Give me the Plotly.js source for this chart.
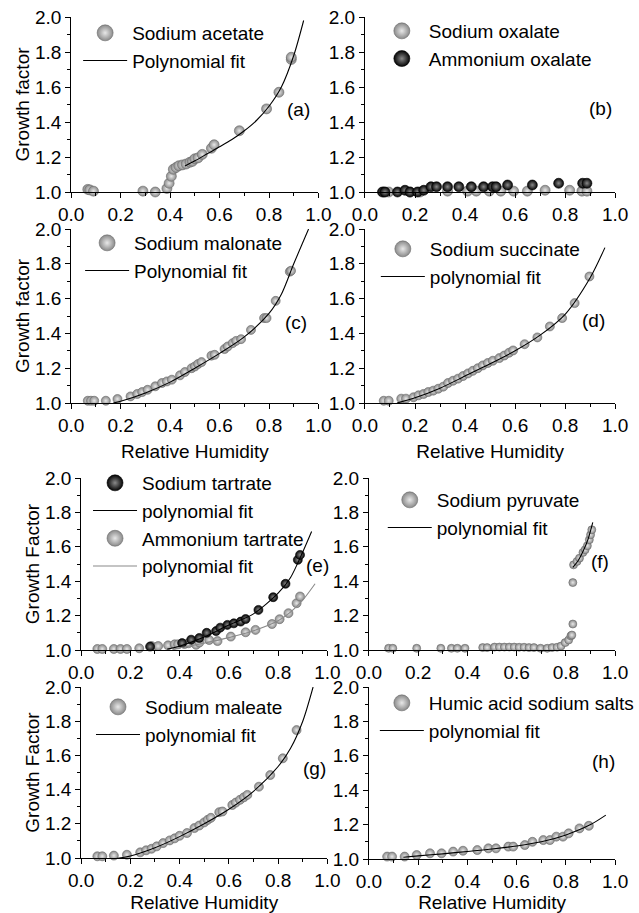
<!DOCTYPE html>
<html><head><meta charset="utf-8">
<script src="https://cdn.plot.ly/plotly-3.0.1.min.js"></script>
<style>html,body{margin:0;padding:0;background:#fff}</style>
</head><body><div id="chart" style="width:639px;height:913px"></div>
<script>
// ---------- DATA ----------
// (a) Sodium acetate
const acetateX = [0.067,0.075,0.09,0.29,0.34,0.387,0.396,0.405,0.413,0.424,0.435,0.45,0.465,0.48,0.49,0.50,0.513,0.53,0.567,0.578,0.68,0.79,0.84,0.89,0.89];
const acetateY = [1.015,1.012,1.005,1.005,1.0,1.02,1.05,1.09,1.13,1.14,1.15,1.155,1.16,1.17,1.175,1.19,1.195,1.215,1.25,1.27,1.35,1.475,1.57,1.757,1.77];
const acetateFitX = [0.46,0.50,0.55,0.60,0.65,0.70,0.75,0.80,0.85,0.90,0.94];
const acetateFitY = [1.148,1.178,1.218,1.258,1.30,1.35,1.41,1.49,1.60,1.78,1.98];
// (b) Oxalates
const sodOxX = [0.075,0.095,0.18,0.22,0.33,0.41,0.445,0.497,0.543,0.594,0.649,0.72,0.818,0.867,0.887];
const sodOxY = [1.0,1.0,1.0,1.0,1.005,1.005,1.005,1.005,1.005,1.005,1.005,1.01,1.01,1.005,1.005];
const ammOxX = [0.07,0.08,0.13,0.16,0.18,0.21,0.235,0.264,0.286,0.33,0.375,0.425,0.474,0.51,0.524,0.57,0.669,0.774,0.87,0.887];
const ammOxY = [1.0,1.0,1.0,1.01,1.0,1.0,1.01,1.03,1.03,1.03,1.03,1.03,1.03,1.03,1.03,1.04,1.04,1.05,1.05,1.05];
// (c) Sodium malonate
const malonateX = [0.067,0.08,0.093,0.14,0.187,0.24,0.267,0.287,0.309,0.34,0.367,0.387,0.407,0.44,0.46,0.487,0.50,0.513,0.527,0.567,0.58,0.62,0.633,0.653,0.667,0.687,0.727,0.78,0.79,0.827,0.884,0.889];
const malonateY = [1.013,1.013,1.013,1.013,1.023,1.038,1.052,1.063,1.076,1.096,1.115,1.124,1.134,1.159,1.178,1.20,1.21,1.224,1.235,1.272,1.277,1.31,1.325,1.344,1.357,1.367,1.42,1.488,1.488,1.587,1.755,1.76];
const malonateFitX = [0.17,0.2,0.3,0.4,0.5,0.6,0.7,0.8,0.85,0.9,0.96];
const malonateFitY = [1.0,1.01,1.058,1.12,1.20,1.285,1.38,1.515,1.625,1.80,2.0];
// (d) Sodium succinate
const succinateX = [0.075,0.095,0.145,0.164,0.194,0.214,0.234,0.253,0.273,0.293,0.313,0.332,0.352,0.372,0.392,0.412,0.431,0.451,0.471,0.491,0.511,0.537,0.557,0.576,0.592,0.638,0.689,0.739,0.788,0.838,0.897];
const succinateY = [1.013,1.013,1.025,1.025,1.033,1.044,1.052,1.063,1.071,1.082,1.094,1.115,1.128,1.14,1.155,1.17,1.185,1.20,1.216,1.23,1.243,1.258,1.273,1.289,1.302,1.338,1.377,1.44,1.488,1.574,1.727];
const succinateFitX = [0.128,0.2,0.3,0.4,0.5,0.6,0.7,0.8,0.9,0.959];
const succinateFitY = [1.0,1.03,1.085,1.155,1.225,1.30,1.39,1.51,1.72,1.893];
// (e) Tartrates
const tartNaX = [0.28,0.41,0.447,0.48,0.51,0.548,0.565,0.594,0.62,0.648,0.668,0.72,0.78,0.83,0.88,0.889];
const tartNaY = [1.02,1.04,1.06,1.07,1.10,1.11,1.13,1.146,1.155,1.165,1.18,1.233,1.307,1.385,1.524,1.553];
const tartNH4X = [0.066,0.086,0.133,0.16,0.186,0.236,0.286,0.313,0.353,0.38,0.394,0.42,0.436,0.467,0.48,0.52,0.554,0.608,0.668,0.708,0.775,0.806,0.842,0.875,0.889];
const tartNH4Y = [1.006,1.006,1.006,1.006,1.006,1.01,1.023,1.023,1.027,1.033,1.033,1.035,1.039,1.03,1.043,1.058,1.052,1.078,1.103,1.117,1.151,1.179,1.214,1.272,1.311];
const tartNaFitX = [0.35,0.4,0.5,0.6,0.7,0.8,0.85,0.9,0.936];
const tartNaFitY = [1.005,1.022,1.075,1.145,1.21,1.33,1.42,1.57,1.689];
const tartNH4FitX = [0.37,0.4,0.5,0.6,0.7,0.8,0.85,0.9,0.95];
const tartNH4FitY = [1.0,1.012,1.04,1.072,1.112,1.17,1.22,1.29,1.385];
// (f) Sodium pyruvate
const pyruvateX = [0.08,0.097,0.194,0.292,0.335,0.359,0.39,0.462,0.48,0.51,0.53,0.55,0.57,0.59,0.61,0.63,0.65,0.67,0.697,0.724,0.744,0.764,0.78,0.797,0.811,0.82,0.824,0.828,0.828,0.831,0.845,0.855,0.869,0.878,0.887,0.895,0.9,0.905];
const pyruvateY = [1.01,1.01,1.01,1.01,1.01,1.01,1.01,1.014,1.014,1.017,1.017,1.017,1.017,1.017,1.016,1.016,1.014,1.014,1.01,1.01,1.014,1.016,1.023,1.043,1.058,1.082,1.087,1.151,1.392,1.495,1.515,1.534,1.567,1.583,1.606,1.641,1.67,1.699];
const pyruvateFitX = [0.828,0.85,0.87,0.89,0.909];
const pyruvateFitY = [1.48,1.52,1.575,1.645,1.742];
// (g) Sodium maleate
const maleateX = [0.066,0.086,0.133,0.186,0.24,0.264,0.286,0.307,0.333,0.36,0.38,0.40,0.43,0.46,0.48,0.50,0.514,0.527,0.561,0.574,0.614,0.628,0.645,0.661,0.675,0.722,0.768,0.819,0.875];
const maleateY = [1.01,1.01,1.014,1.019,1.033,1.045,1.054,1.068,1.087,1.103,1.115,1.13,1.146,1.175,1.19,1.208,1.223,1.235,1.268,1.272,1.31,1.324,1.34,1.355,1.369,1.417,1.485,1.583,1.748];
const maleateFitX = [0.139,0.2,0.3,0.4,0.5,0.6,0.7,0.8,0.85,0.9,0.942];
const maleateFitY = [0.996,1.012,1.06,1.125,1.20,1.285,1.39,1.535,1.64,1.80,2.0];
// (h) Humic acid sodium salts
const humicX = [0.074,0.094,0.145,0.194,0.248,0.295,0.342,0.382,0.44,0.485,0.516,0.566,0.586,0.633,0.664,0.708,0.735,0.761,0.788,0.811,0.855,0.893];
const humicY = [1.014,1.014,1.014,1.023,1.033,1.033,1.043,1.048,1.052,1.062,1.062,1.072,1.072,1.081,1.10,1.11,1.11,1.13,1.13,1.149,1.178,1.193];
const humicFitX = [0.14,0.2,0.3,0.4,0.5,0.6,0.7,0.8,0.9,0.962];
const humicFitY = [1.01,1.018,1.03,1.044,1.058,1.076,1.10,1.14,1.20,1.255];

const xTicks = [0,0.2,0.4,0.6,0.8,1.0];
const yTicks = [1.0,1.2,1.4,1.6,1.8,2.0];

// ---------- STYLE / LAYOUT ----------
const FONT = 'Liberation Sans, Arial, sans-serif';
const FS = 19;
const W = 639, H = 913;
const GRAY = {color:'#8a8a8a', gradient:{type:'radial', color:'#e8e8e8'}, line:{width:0.6, color:'#6a6a6a'}};
const BLACK = {color:'#030303', gradient:{type:'radial', color:'#8a8a8a'}, line:{width:0.6, color:'#000'}};

function ax(i){ return i===1 ? '' : String(i); }
function markers(x, y, i, sty, size){
  return {x:x, y:y, xaxis:'x'+ax(i), yaxis:'y'+ax(i), mode:'markers', showlegend:false, cliponaxis:false,
    marker:Object.assign({size:size, symbol:'circle'}, sty), hoverinfo:'skip'};
}
function legendMarker(name, i, sty){
  return {x:[null], y:[null], xaxis:'x'+ax(i), yaxis:'y'+ax(i), mode:'markers', name:name, legend:'legend'+ax(i),
    marker:Object.assign({size:16, symbol:'circle'}, sty)};
}
function fit(x, y, i, name, color){
  return {x:x, y:y, xaxis:'x'+ax(i), yaxis:'y'+ax(i), mode:'lines', name:name, legend:'legend'+ax(i),
    line:{color:color, width:1.1, shape:'spline', smoothing:0.8}, hoverinfo:'skip'};
}

const data = [
  markers(acetateX, acetateY, 1, GRAY, 10), legendMarker('Sodium acetate', 1, GRAY), fit(acetateFitX, acetateFitY, 1, 'Polynomial fit', '#000'),
  markers(sodOxX, sodOxY, 2, GRAY, 10), markers(ammOxX, ammOxY, 2, BLACK, 10),
  legendMarker('Sodium oxalate', 2, GRAY), legendMarker('Ammonium oxalate', 2, BLACK),
  markers(malonateX, malonateY, 3, GRAY, 9), legendMarker('Sodium malonate', 3, GRAY), fit(malonateFitX, malonateFitY, 3, 'Polynomial fit', '#000'),
  markers(succinateX, succinateY, 4, GRAY, 9), legendMarker('Sodium succinate', 4, GRAY), fit(succinateFitX, succinateFitY, 4, 'polynomial fit', '#000'),
  markers(tartNH4X, tartNH4Y, 5, GRAY, 9), markers(tartNaX, tartNaY, 5, BLACK, 9),
  legendMarker('Sodium tartrate', 5, BLACK), fit(tartNaFitX, tartNaFitY, 5, 'polynomial fit', '#000'),
  legendMarker('Ammonium tartrate', 5, GRAY), fit(tartNH4FitX, tartNH4FitY, 5, 'polynomial fit', '#8a8a8a'),
  markers(pyruvateX, pyruvateY, 6, GRAY, 8), legendMarker('Sodium pyruvate', 6, GRAY), fit(pyruvateFitX, pyruvateFitY, 6, 'polynomial fit', '#000'),
  markers(maleateX, maleateY, 7, GRAY, 9), legendMarker('Sodium maleate', 7, GRAY), fit(maleateFitX, maleateFitY, 7, 'polynomial fit', '#000'),
  markers(humicX, humicY, 8, GRAY, 9), legendMarker('Humic acid sodium salts', 8, GRAY), fit(humicFitX, humicFitY, 8, 'polynomial fit', '#000')
];

// panel pixel boxes: [left, right, top, bottom]; leg = [text-left px, first-row-centre px]
const panels = [
  {box:[72,322,17,192], ytitle:'Growth factor', xtitle:false, leg:[133,35], lab:'(a)', lp:[0.92,1.47]},
  {box:[369,622,17,192], ytitle:null, xtitle:false, leg:[433,33], lab:'(b)', lp:[0.94,1.48]},
  {box:[72,322,229,403], ytitle:'Growth factor', xtitle:true, leg:[135,245], lab:'(c)', lp:[0.908,1.46]},
  {box:[369,622,229,403], ytitle:null, xtitle:true, leg:[434,251], lab:'(d)', lp:[0.913,1.477]},
  {box:[82,331,478,650], ytitle:'Growth Factor', xtitle:false, leg:[143,485], lab:'(e)', lp:[0.96,1.494]},
  {box:[373,622,478,650], ytitle:null, xtitle:false, leg:[441,502], lab:'(f)', lp:[0.94,1.512]},
  {box:[82,331,687,858], ytitle:'Growth Factor', xtitle:true, leg:[146,709], lab:'(g)', lp:[0.948,1.526]},
  {box:[373,622,687,859], ytitle:null, xtitle:true, leg:[433,705], lab:'(h)', lp:[0.952,1.564]}
];
const ITEMW = 44;

const layout = {width:W, height:H, margin:{l:0,r:0,t:0,b:0}, paper_bgcolor:'#fff', plot_bgcolor:'rgba(0,0,0,0)',
  font:{family:FONT, size:FS, color:'#000'}, annotations:[], showlegend:true};

panels.forEach((p, k) => {
  const i = k+1;
  const [l, r, t, b] = p.box;
  const common = {showline:true, linecolor:'#000', linewidth:1, ticks:'outside', ticklen:5, tickwidth:1, tickcolor:'#000',
    showgrid:false, zeroline:false, tickfont:{family:FONT, size:FS, color:'#000'}, tickformat:'.1f', fixedrange:true,
    minor:{ticks:'outside', ticklen:3, tickwidth:1, tickcolor:'#000', showgrid:false}};
  layout['xaxis'+ax(i)] = Object.assign({}, common, {domain:[l/W, r/W], anchor:'y'+ax(i), range:[0,1],
    tickvals:xTicks, minor:Object.assign({}, common.minor, {dtick:0.1, tick0:0}),
    title: p.xtitle ? {text:'Relative Humidity', font:{family:FONT, size:FS, color:'#000'}, standoff:9} : {text:''}});
  layout['yaxis'+ax(i)] = Object.assign({}, common, {domain:[1-b/H, 1-t/H], anchor:'x'+ax(i), range:[1,2],
    tickvals:yTicks, minor:Object.assign({}, common.minor, {dtick:0.1, tick0:1}),
    title: p.ytitle ? {text:p.ytitle, font:{family:FONT, size:FS, color:'#000'}, standoff:0} : {text:''}});
  layout['legend'+ax(i)] = {x:(p.leg[0]-ITEMW-10)/W, y:1-(p.leg[1]-21)/H, xanchor:'left', yanchor:'top', bgcolor:'rgba(0,0,0,0)',
    borderwidth:0, font:{family:FONT, size:FS, color:'#000'}, itemwidth:ITEMW, traceorder:'normal', tracegroupgap:0};
  layout.annotations.push({xref:'x'+ax(i), yref:'y'+ax(i), x:p.lp[0], y:p.lp[1], text:p.lab, showarrow:false,
    font:{family:FONT, size:FS, color:'#000'}});
});

Plotly.newPlot('chart', data, layout, {staticPlot:true, displayModeBar:false});
</script></body></html>
